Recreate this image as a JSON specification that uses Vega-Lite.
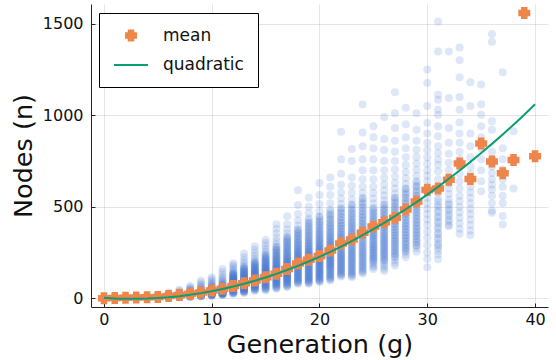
{
"$schema": "https://vega.github.io/schema/vega-lite/v6.json",
"width": 457, "height": 303,
"autosize": {"type": "none"},
"padding": {"left": 91, "top": 4, "right": 8, "bottom": 53},
"config": {
  "view": {"stroke": null},
  "font": "DejaVu Sans",
  "axis": {"grid": true, "gridColor": "#000", "gridOpacity": 0.1, "gridWidth": 1, "domainColor": "#222", "domainWidth": 1, "tickColor": "#222", "tickSize": -4, "tickWidth": 1, "labelFontSize": 16, "labelColor": "#111", "titleFontSize": 25.5, "titleFontWeight": "normal", "titleColor": "#111", "labelFont": "DejaVu Sans", "titleFont": "DejaVu Sans"},
  "legend": {"orient": "none", "legendX": 8, "legendY": 9, "padding": 14, "symbolOffset": 0, "labelOffset": 14, "labelFontSize": 17, "labelFont": "DejaVu Sans", "labelColor": "#111", "rowPadding": 2, "strokeColor": "#000", "fillColor": "#fff", "symbolStrokeWidth": 2, "symbolOpacity": 1}
},
"datasets": {
"pts": [
{"g":0,"n":1},{"g":0,"n":1},{"g":0,"n":1},{"g":0,"n":1},{"g":0,"n":1},{"g":0,"n":1},{"g":0,"n":1},{"g":0,"n":1},{"g":0,"n":1},{"g":0,"n":1},
{"g":1,"n":1},{"g":1,"n":1},{"g":1,"n":2},{"g":1,"n":2},{"g":1,"n":2},{"g":1,"n":2},{"g":1,"n":3},{"g":1,"n":3},{"g":1,"n":3},{"g":1,"n":3},{"g":1,"n":4},{"g":1,"n":4},
{"g":2,"n":1},{"g":2,"n":2},{"g":2,"n":2},{"g":2,"n":3},{"g":2,"n":3},{"g":2,"n":3},{"g":2,"n":3},{"g":2,"n":4},{"g":2,"n":4},{"g":2,"n":4},{"g":2,"n":5},{"g":2,"n":5},{"g":2,"n":6},
{"g":3,"n":1},{"g":3,"n":2},{"g":3,"n":3},{"g":3,"n":3},{"g":3,"n":4},{"g":3,"n":4},{"g":3,"n":4},{"g":3,"n":5},{"g":3,"n":5},{"g":3,"n":6},{"g":3,"n":6},{"g":3,"n":7},{"g":3,"n":8},{"g":3,"n":9},
{"g":4,"n":2},{"g":4,"n":3},{"g":4,"n":4},{"g":4,"n":4},{"g":4,"n":5},{"g":4,"n":5},{"g":4,"n":6},{"g":4,"n":6},{"g":4,"n":7},{"g":4,"n":7},{"g":4,"n":8},{"g":4,"n":9},{"g":4,"n":10},{"g":4,"n":12},{"g":4,"n":14},
{"g":5,"n":2},{"g":5,"n":3},{"g":5,"n":4},{"g":5,"n":5},{"g":5,"n":5},{"g":5,"n":6},{"g":5,"n":6},{"g":5,"n":7},{"g":5,"n":7},{"g":5,"n":8},{"g":5,"n":8},{"g":5,"n":9},{"g":5,"n":10},{"g":5,"n":12},{"g":5,"n":14},{"g":5,"n":17},{"g":5,"n":21},
{"g":6,"n":4},{"g":6,"n":5},{"g":6,"n":6},{"g":6,"n":7},{"g":6,"n":8},{"g":6,"n":8},{"g":6,"n":9},{"g":6,"n":10},{"g":6,"n":10},{"g":6,"n":11},{"g":6,"n":12},{"g":6,"n":13},{"g":6,"n":14},{"g":6,"n":15},{"g":6,"n":16},{"g":6,"n":18},{"g":6,"n":20},{"g":6,"n":23},{"g":6,"n":27},{"g":6,"n":32},
{"g":7,"n":6},{"g":7,"n":7},{"g":7,"n":8},{"g":7,"n":9},{"g":7,"n":10},{"g":7,"n":11},{"g":7,"n":12},{"g":7,"n":13},{"g":7,"n":14},{"g":7,"n":15},{"g":7,"n":16},{"g":7,"n":17},{"g":7,"n":18},{"g":7,"n":19},{"g":7,"n":20},{"g":7,"n":22},{"g":7,"n":24},{"g":7,"n":26},{"g":7,"n":28},{"g":7,"n":31},{"g":7,"n":35},{"g":7,"n":40},{"g":7,"n":47},
{"g":8,"n":8},{"g":8,"n":9},{"g":8,"n":10},{"g":8,"n":11},{"g":8,"n":12},{"g":8,"n":13},{"g":8,"n":14},{"g":8,"n":15},{"g":8,"n":16},{"g":8,"n":17},{"g":8,"n":18},{"g":8,"n":19},{"g":8,"n":20},{"g":8,"n":21},{"g":8,"n":22},{"g":8,"n":23},{"g":8,"n":24},{"g":8,"n":25},{"g":8,"n":26},{"g":8,"n":28},{"g":8,"n":30},{"g":8,"n":32},{"g":8,"n":34},{"g":8,"n":36},{"g":8,"n":38},{"g":8,"n":41},{"g":8,"n":44},{"g":8,"n":48},{"g":8,"n":53},{"g":8,"n":60},{"g":8,"n":68},
{"g":9,"n":10},{"g":9,"n":12},{"g":9,"n":13},{"g":9,"n":14},{"g":9,"n":15},{"g":9,"n":16},{"g":9,"n":17},{"g":9,"n":18},{"g":9,"n":19},{"g":9,"n":20},{"g":9,"n":21},{"g":9,"n":22},{"g":9,"n":23},{"g":9,"n":24},{"g":9,"n":25},{"g":9,"n":26},{"g":9,"n":27},{"g":9,"n":28},{"g":9,"n":29},{"g":9,"n":30},{"g":9,"n":32},{"g":9,"n":34},{"g":9,"n":36},{"g":9,"n":38},{"g":9,"n":40},{"g":9,"n":43},{"g":9,"n":46},{"g":9,"n":50},{"g":9,"n":55},{"g":9,"n":61},{"g":9,"n":68},{"g":9,"n":76},{"g":9,"n":86},{"g":9,"n":98},
{"g":10,"n":14},{"g":10,"n":15},{"g":10,"n":17},{"g":10,"n":18},{"g":10,"n":19},{"g":10,"n":20},{"g":10,"n":21},{"g":10,"n":22},{"g":10,"n":23},{"g":10,"n":24},{"g":10,"n":25},{"g":10,"n":26},{"g":10,"n":27},{"g":10,"n":28},{"g":10,"n":29},{"g":10,"n":30},{"g":10,"n":31},{"g":10,"n":32},{"g":10,"n":33},{"g":10,"n":34},{"g":10,"n":35},{"g":10,"n":36},{"g":10,"n":37},{"g":10,"n":38},{"g":10,"n":40},{"g":10,"n":42},{"g":10,"n":44},{"g":10,"n":46},{"g":10,"n":48},{"g":10,"n":50},{"g":10,"n":52},{"g":10,"n":54},{"g":10,"n":57},{"g":10,"n":60},{"g":10,"n":64},{"g":10,"n":68},{"g":10,"n":73},{"g":10,"n":79},{"g":10,"n":86},{"g":10,"n":95},{"g":10,"n":105},{"g":10,"n":116},
{"g":11,"n":18},{"g":11,"n":20},{"g":11,"n":22},{"g":11,"n":23},{"g":11,"n":24},{"g":11,"n":25},{"g":11,"n":26},{"g":11,"n":27},{"g":11,"n":28},{"g":11,"n":29},{"g":11,"n":30},{"g":11,"n":31},{"g":11,"n":32},{"g":11,"n":33},{"g":11,"n":34},{"g":11,"n":35},{"g":11,"n":36},{"g":11,"n":37},{"g":11,"n":38},{"g":11,"n":39},{"g":11,"n":40},{"g":11,"n":41},{"g":11,"n":42},{"g":11,"n":43},{"g":11,"n":44},{"g":11,"n":45},{"g":11,"n":46},{"g":11,"n":48},{"g":11,"n":50},{"g":11,"n":52},{"g":11,"n":54},{"g":11,"n":56},{"g":11,"n":58},{"g":11,"n":60},{"g":11,"n":62},{"g":11,"n":64},{"g":11,"n":67},{"g":11,"n":70},{"g":11,"n":73},{"g":11,"n":77},{"g":11,"n":81},{"g":11,"n":86},{"g":11,"n":92},{"g":11,"n":99},{"g":11,"n":107},{"g":11,"n":117},{"g":11,"n":130},{"g":11,"n":145},{"g":11,"n":162},
{"g":12,"n":25},{"g":12,"n":27},{"g":12,"n":29},{"g":12,"n":31},{"g":12,"n":33},{"g":12,"n":35},{"g":12,"n":37},{"g":12,"n":39},{"g":12,"n":41},{"g":12,"n":43},{"g":12,"n":45},{"g":12,"n":47},{"g":12,"n":49},{"g":12,"n":51},{"g":12,"n":53},{"g":12,"n":55},{"g":12,"n":57},{"g":12,"n":59},{"g":12,"n":61},{"g":12,"n":63},{"g":12,"n":65},{"g":12,"n":67},{"g":12,"n":69},{"g":12,"n":71},{"g":12,"n":73},{"g":12,"n":75},{"g":12,"n":78},{"g":12,"n":81},{"g":12,"n":84},{"g":12,"n":87},{"g":12,"n":90},{"g":12,"n":93},{"g":12,"n":96},{"g":12,"n":99},{"g":12,"n":102},{"g":12,"n":105},{"g":12,"n":109},{"g":12,"n":113},{"g":12,"n":117},{"g":12,"n":121},{"g":12,"n":126},{"g":12,"n":131},{"g":12,"n":137},{"g":12,"n":144},{"g":12,"n":152},{"g":12,"n":161},{"g":12,"n":171},{"g":12,"n":182},{"g":12,"n":192},
{"g":13,"n":30},{"g":13,"n":33},{"g":13,"n":36},{"g":13,"n":38},{"g":13,"n":40},{"g":13,"n":42},{"g":13,"n":44},{"g":13,"n":46},{"g":13,"n":48},{"g":13,"n":50},{"g":13,"n":52},{"g":13,"n":54},{"g":13,"n":56},{"g":13,"n":58},{"g":13,"n":60},{"g":13,"n":62},{"g":13,"n":64},{"g":13,"n":66},{"g":13,"n":68},{"g":13,"n":70},{"g":13,"n":72},{"g":13,"n":74},{"g":13,"n":76},{"g":13,"n":78},{"g":13,"n":80},{"g":13,"n":82},{"g":13,"n":84},{"g":13,"n":87},{"g":13,"n":90},{"g":13,"n":93},{"g":13,"n":96},{"g":13,"n":99},{"g":13,"n":102},{"g":13,"n":105},{"g":13,"n":108},{"g":13,"n":111},{"g":13,"n":115},{"g":13,"n":119},{"g":13,"n":123},{"g":13,"n":127},{"g":13,"n":131},{"g":13,"n":136},{"g":13,"n":141},{"g":13,"n":147},{"g":13,"n":154},{"g":13,"n":162},{"g":13,"n":171},{"g":13,"n":181},{"g":13,"n":193},{"g":13,"n":207},{"g":13,"n":224},{"g":13,"n":245},
{"g":14,"n":42},{"g":14,"n":45},{"g":14,"n":48},{"g":14,"n":51},{"g":14,"n":54},{"g":14,"n":57},{"g":14,"n":60},{"g":14,"n":62},{"g":14,"n":64},{"g":14,"n":66},{"g":14,"n":68},{"g":14,"n":70},{"g":14,"n":72},{"g":14,"n":74},{"g":14,"n":76},{"g":14,"n":78},{"g":14,"n":80},{"g":14,"n":82},{"g":14,"n":84},{"g":14,"n":86},{"g":14,"n":88},{"g":14,"n":90},{"g":14,"n":92},{"g":14,"n":94},{"g":14,"n":96},{"g":14,"n":98},{"g":14,"n":100},{"g":14,"n":102},{"g":14,"n":105},{"g":14,"n":108},{"g":14,"n":111},{"g":14,"n":114},{"g":14,"n":117},{"g":14,"n":120},{"g":14,"n":123},{"g":14,"n":126},{"g":14,"n":130},{"g":14,"n":134},{"g":14,"n":138},{"g":14,"n":142},{"g":14,"n":146},{"g":14,"n":150},{"g":14,"n":155},{"g":14,"n":160},{"g":14,"n":166},{"g":14,"n":172},{"g":14,"n":179},{"g":14,"n":187},{"g":14,"n":196},{"g":14,"n":206},{"g":14,"n":218},{"g":14,"n":232},{"g":14,"n":248},{"g":14,"n":265},{"g":14,"n":285},
{"g":15,"n":44},{"g":15,"n":48},{"g":15,"n":52},{"g":15,"n":56},{"g":15,"n":60},{"g":15,"n":63},{"g":15,"n":66},{"g":15,"n":69},{"g":15,"n":72},{"g":15,"n":75},{"g":15,"n":78},{"g":15,"n":81},{"g":15,"n":84},{"g":15,"n":87},{"g":15,"n":90},{"g":15,"n":93},{"g":15,"n":96},{"g":15,"n":99},{"g":15,"n":102},{"g":15,"n":105},{"g":15,"n":108},{"g":15,"n":111},{"g":15,"n":114},{"g":15,"n":117},{"g":15,"n":120},{"g":15,"n":123},{"g":15,"n":126},{"g":15,"n":129},{"g":15,"n":132},{"g":15,"n":135},{"g":15,"n":138},{"g":15,"n":141},{"g":15,"n":145},{"g":15,"n":149},{"g":15,"n":153},{"g":15,"n":157},{"g":15,"n":161},{"g":15,"n":165},{"g":15,"n":170},{"g":15,"n":175},{"g":15,"n":180},{"g":15,"n":186},{"g":15,"n":192},{"g":15,"n":199},{"g":15,"n":206},{"g":15,"n":214},{"g":15,"n":223},{"g":15,"n":233},{"g":15,"n":244},{"g":15,"n":256},{"g":15,"n":270},{"g":15,"n":286},{"g":15,"n":303},{"g":15,"n":320},
{"g":16,"n":53},{"g":16,"n":57},{"g":16,"n":61},{"g":16,"n":65},{"g":16,"n":69},{"g":16,"n":73},{"g":16,"n":77},{"g":16,"n":80},{"g":16,"n":83},{"g":16,"n":86},{"g":16,"n":89},{"g":16,"n":92},{"g":16,"n":95},{"g":16,"n":98},{"g":16,"n":101},{"g":16,"n":104},{"g":16,"n":107},{"g":16,"n":110},{"g":16,"n":113},{"g":16,"n":116},{"g":16,"n":119},{"g":16,"n":122},{"g":16,"n":125},{"g":16,"n":128},{"g":16,"n":131},{"g":16,"n":134},{"g":16,"n":137},{"g":16,"n":140},{"g":16,"n":143},{"g":16,"n":146},{"g":16,"n":150},{"g":16,"n":154},{"g":16,"n":158},{"g":16,"n":162},{"g":16,"n":166},{"g":16,"n":170},{"g":16,"n":175},{"g":16,"n":180},{"g":16,"n":185},{"g":16,"n":190},{"g":16,"n":196},{"g":16,"n":202},{"g":16,"n":209},{"g":16,"n":216},{"g":16,"n":224},{"g":16,"n":233},{"g":16,"n":243},{"g":16,"n":254},{"g":16,"n":266},{"g":16,"n":280},{"g":16,"n":295},{"g":16,"n":312},{"g":16,"n":332},{"g":16,"n":355},{"g":16,"n":380},{"g":16,"n":405},
{"g":17,"n":62},{"g":17,"n":66},{"g":17,"n":70},{"g":17,"n":74},{"g":17,"n":78},{"g":17,"n":82},{"g":17,"n":86},{"g":17,"n":90},{"g":17,"n":94},{"g":17,"n":97},{"g":17,"n":100},{"g":17,"n":103},{"g":17,"n":106},{"g":17,"n":109},{"g":17,"n":112},{"g":17,"n":115},{"g":17,"n":118},{"g":17,"n":121},{"g":17,"n":124},{"g":17,"n":127},{"g":17,"n":130},{"g":17,"n":133},{"g":17,"n":136},{"g":17,"n":139},{"g":17,"n":142},{"g":17,"n":145},{"g":17,"n":148},{"g":17,"n":151},{"g":17,"n":154},{"g":17,"n":157},{"g":17,"n":160},{"g":17,"n":164},{"g":17,"n":168},{"g":17,"n":172},{"g":17,"n":176},{"g":17,"n":180},{"g":17,"n":184},{"g":17,"n":189},{"g":17,"n":194},{"g":17,"n":199},{"g":17,"n":205},{"g":17,"n":211},{"g":17,"n":218},{"g":17,"n":225},{"g":17,"n":233},{"g":17,"n":242},{"g":17,"n":252},{"g":17,"n":263},{"g":17,"n":275},{"g":17,"n":288},{"g":17,"n":302},{"g":17,"n":318},{"g":17,"n":335},{"g":17,"n":355},{"g":17,"n":378},{"g":17,"n":405},{"g":17,"n":448},
{"g":18,"n":80},{"g":18,"n":84},{"g":18,"n":88},{"g":18,"n":92},{"g":18,"n":96},{"g":18,"n":100},{"g":18,"n":104},{"g":18,"n":108},{"g":18,"n":112},{"g":18,"n":116},{"g":18,"n":120},{"g":18,"n":124},{"g":18,"n":128},{"g":18,"n":132},{"g":18,"n":136},{"g":18,"n":140},{"g":18,"n":144},{"g":18,"n":148},{"g":18,"n":152},{"g":18,"n":156},{"g":18,"n":160},{"g":18,"n":164},{"g":18,"n":168},{"g":18,"n":172},{"g":18,"n":176},{"g":18,"n":180},{"g":18,"n":184},{"g":18,"n":188},{"g":18,"n":192},{"g":18,"n":197},{"g":18,"n":202},{"g":18,"n":207},{"g":18,"n":212},{"g":18,"n":217},{"g":18,"n":222},{"g":18,"n":228},{"g":18,"n":234},{"g":18,"n":240},{"g":18,"n":247},{"g":18,"n":254},{"g":18,"n":262},{"g":18,"n":270},{"g":18,"n":279},{"g":18,"n":289},{"g":18,"n":300},{"g":18,"n":312},{"g":18,"n":325},{"g":18,"n":340},{"g":18,"n":357},{"g":18,"n":376},{"g":18,"n":398},{"g":18,"n":425},{"g":18,"n":460},{"g":18,"n":510},{"g":18,"n":590},
{"g":19,"n":80},{"g":19,"n":84},{"g":19,"n":88},{"g":19,"n":92},{"g":19,"n":96},{"g":19,"n":100},{"g":19,"n":104},{"g":19,"n":108},{"g":19,"n":112},{"g":19,"n":116},{"g":19,"n":120},{"g":19,"n":124},{"g":19,"n":128},{"g":19,"n":132},{"g":19,"n":136},{"g":19,"n":140},{"g":19,"n":144},{"g":19,"n":148},{"g":19,"n":152},{"g":19,"n":156},{"g":19,"n":160},{"g":19,"n":164},{"g":19,"n":168},{"g":19,"n":172},{"g":19,"n":176},{"g":19,"n":180},{"g":19,"n":184},{"g":19,"n":188},{"g":19,"n":192},{"g":19,"n":196},{"g":19,"n":200},{"g":19,"n":204},{"g":19,"n":208},{"g":19,"n":212},{"g":19,"n":216},{"g":19,"n":220},{"g":19,"n":225},{"g":19,"n":230},{"g":19,"n":235},{"g":19,"n":240},{"g":19,"n":246},{"g":19,"n":252},{"g":19,"n":258},{"g":19,"n":265},{"g":19,"n":272},{"g":19,"n":280},{"g":19,"n":289},{"g":19,"n":298},{"g":19,"n":308},{"g":19,"n":319},{"g":19,"n":331},{"g":19,"n":344},{"g":19,"n":358},{"g":19,"n":374},{"g":19,"n":392},{"g":19,"n":412},{"g":19,"n":436},{"g":19,"n":465},{"g":19,"n":500},{"g":19,"n":550},
{"g":20,"n":90},{"g":20,"n":94},{"g":20,"n":98},{"g":20,"n":102},{"g":20,"n":106},{"g":20,"n":110},{"g":20,"n":114},{"g":20,"n":118},{"g":20,"n":122},{"g":20,"n":126},{"g":20,"n":130},{"g":20,"n":134},{"g":20,"n":138},{"g":20,"n":142},{"g":20,"n":146},{"g":20,"n":150},{"g":20,"n":154},{"g":20,"n":158},{"g":20,"n":162},{"g":20,"n":166},{"g":20,"n":170},{"g":20,"n":174},{"g":20,"n":178},{"g":20,"n":182},{"g":20,"n":186},{"g":20,"n":190},{"g":20,"n":194},{"g":20,"n":198},{"g":20,"n":202},{"g":20,"n":206},{"g":20,"n":210},{"g":20,"n":214},{"g":20,"n":218},{"g":20,"n":222},{"g":20,"n":226},{"g":20,"n":230},{"g":20,"n":235},{"g":20,"n":240},{"g":20,"n":245},{"g":20,"n":250},{"g":20,"n":256},{"g":20,"n":262},{"g":20,"n":268},{"g":20,"n":275},{"g":20,"n":282},{"g":20,"n":290},{"g":20,"n":298},{"g":20,"n":307},{"g":20,"n":317},{"g":20,"n":328},{"g":20,"n":340},{"g":20,"n":353},{"g":20,"n":367},{"g":20,"n":383},{"g":20,"n":400},{"g":20,"n":420},{"g":20,"n":445},{"g":20,"n":475},{"g":20,"n":515},{"g":20,"n":565},{"g":20,"n":630},
{"g":21,"n":98},{"g":21,"n":103},{"g":21,"n":108},{"g":21,"n":113},{"g":21,"n":118},{"g":21,"n":123},{"g":21,"n":128},{"g":21,"n":133},{"g":21,"n":138},{"g":21,"n":143},{"g":21,"n":148},{"g":21,"n":153},{"g":21,"n":158},{"g":21,"n":163},{"g":21,"n":168},{"g":21,"n":172},{"g":21,"n":176},{"g":21,"n":180},{"g":21,"n":184},{"g":21,"n":188},{"g":21,"n":192},{"g":21,"n":196},{"g":21,"n":200},{"g":21,"n":204},{"g":21,"n":208},{"g":21,"n":212},{"g":21,"n":216},{"g":21,"n":220},{"g":21,"n":224},{"g":21,"n":228},{"g":21,"n":232},{"g":21,"n":236},{"g":21,"n":240},{"g":21,"n":245},{"g":21,"n":250},{"g":21,"n":255},{"g":21,"n":260},{"g":21,"n":266},{"g":21,"n":272},{"g":21,"n":278},{"g":21,"n":285},{"g":21,"n":292},{"g":21,"n":300},{"g":21,"n":308},{"g":21,"n":317},{"g":21,"n":327},{"g":21,"n":338},{"g":21,"n":350},{"g":21,"n":363},{"g":21,"n":377},{"g":21,"n":393},{"g":21,"n":410},{"g":21,"n":430},{"g":21,"n":455},{"g":21,"n":485},{"g":21,"n":520},{"g":21,"n":565},{"g":21,"n":610},{"g":21,"n":660},
{"g":22,"n":120},{"g":22,"n":125},{"g":22,"n":130},{"g":22,"n":135},{"g":22,"n":140},{"g":22,"n":145},{"g":22,"n":150},{"g":22,"n":155},{"g":22,"n":160},{"g":22,"n":165},{"g":22,"n":170},{"g":22,"n":175},{"g":22,"n":180},{"g":22,"n":185},{"g":22,"n":190},{"g":22,"n":195},{"g":22,"n":200},{"g":22,"n":205},{"g":22,"n":210},{"g":22,"n":215},{"g":22,"n":220},{"g":22,"n":225},{"g":22,"n":230},{"g":22,"n":235},{"g":22,"n":240},{"g":22,"n":245},{"g":22,"n":250},{"g":22,"n":256},{"g":22,"n":262},{"g":22,"n":268},{"g":22,"n":274},{"g":22,"n":280},{"g":22,"n":287},{"g":22,"n":294},{"g":22,"n":301},{"g":22,"n":309},{"g":22,"n":317},{"g":22,"n":326},{"g":22,"n":335},{"g":22,"n":345},{"g":22,"n":356},{"g":22,"n":368},{"g":22,"n":381},{"g":22,"n":395},{"g":22,"n":410},{"g":22,"n":427},{"g":22,"n":446},{"g":22,"n":467},{"g":22,"n":490},{"g":22,"n":515},{"g":22,"n":545},{"g":22,"n":580},{"g":22,"n":620},{"g":22,"n":680},{"g":22,"n":760},{"g":22,"n":910},
{"g":23,"n":116},{"g":23,"n":122},{"g":23,"n":128},{"g":23,"n":134},{"g":23,"n":140},{"g":23,"n":146},{"g":23,"n":152},{"g":23,"n":158},{"g":23,"n":164},{"g":23,"n":170},{"g":23,"n":176},{"g":23,"n":182},{"g":23,"n":188},{"g":23,"n":194},{"g":23,"n":200},{"g":23,"n":206},{"g":23,"n":212},{"g":23,"n":218},{"g":23,"n":224},{"g":23,"n":230},{"g":23,"n":236},{"g":23,"n":242},{"g":23,"n":248},{"g":23,"n":254},{"g":23,"n":260},{"g":23,"n":266},{"g":23,"n":272},{"g":23,"n":279},{"g":23,"n":286},{"g":23,"n":293},{"g":23,"n":300},{"g":23,"n":308},{"g":23,"n":316},{"g":23,"n":325},{"g":23,"n":334},{"g":23,"n":344},{"g":23,"n":355},{"g":23,"n":367},{"g":23,"n":380},{"g":23,"n":394},{"g":23,"n":409},{"g":23,"n":425},{"g":23,"n":443},{"g":23,"n":463},{"g":23,"n":485},{"g":23,"n":510},{"g":23,"n":540},{"g":23,"n":575},{"g":23,"n":615},{"g":23,"n":660},{"g":23,"n":750},{"g":23,"n":816},
{"g":24,"n":136},{"g":24,"n":143},{"g":24,"n":150},{"g":24,"n":157},{"g":24,"n":164},{"g":24,"n":171},{"g":24,"n":178},{"g":24,"n":185},{"g":24,"n":192},{"g":24,"n":199},{"g":24,"n":206},{"g":24,"n":213},{"g":24,"n":220},{"g":24,"n":227},{"g":24,"n":234},{"g":24,"n":241},{"g":24,"n":248},{"g":24,"n":255},{"g":24,"n":262},{"g":24,"n":269},{"g":24,"n":276},{"g":24,"n":283},{"g":24,"n":290},{"g":24,"n":298},{"g":24,"n":306},{"g":24,"n":314},{"g":24,"n":322},{"g":24,"n":331},{"g":24,"n":340},{"g":24,"n":350},{"g":24,"n":360},{"g":24,"n":371},{"g":24,"n":383},{"g":24,"n":396},{"g":24,"n":410},{"g":24,"n":425},{"g":24,"n":441},{"g":24,"n":458},{"g":24,"n":477},{"g":24,"n":498},{"g":24,"n":520},{"g":24,"n":545},{"g":24,"n":575},{"g":24,"n":610},{"g":24,"n":650},{"g":24,"n":700},{"g":24,"n":760},{"g":24,"n":830},{"g":24,"n":905},{"g":24,"n":1058},
{"g":25,"n":160},{"g":25,"n":170},{"g":25,"n":180},{"g":25,"n":190},{"g":25,"n":200},{"g":25,"n":210},{"g":25,"n":220},{"g":25,"n":230},{"g":25,"n":240},{"g":25,"n":250},{"g":25,"n":260},{"g":25,"n":270},{"g":25,"n":280},{"g":25,"n":290},{"g":25,"n":300},{"g":25,"n":312},{"g":25,"n":324},{"g":25,"n":336},{"g":25,"n":348},{"g":25,"n":360},{"g":25,"n":374},{"g":25,"n":388},{"g":25,"n":402},{"g":25,"n":418},{"g":25,"n":434},{"g":25,"n":452},{"g":25,"n":472},{"g":25,"n":494},{"g":25,"n":518},{"g":25,"n":545},{"g":25,"n":575},{"g":25,"n":610},{"g":25,"n":650},{"g":25,"n":700},{"g":25,"n":760},{"g":25,"n":820},{"g":25,"n":880},{"g":25,"n":940},
{"g":26,"n":150},{"g":26,"n":162},{"g":26,"n":174},{"g":26,"n":186},{"g":26,"n":198},{"g":26,"n":210},{"g":26,"n":222},{"g":26,"n":234},{"g":26,"n":246},{"g":26,"n":258},{"g":26,"n":270},{"g":26,"n":282},{"g":26,"n":294},{"g":26,"n":306},{"g":26,"n":318},{"g":26,"n":330},{"g":26,"n":343},{"g":26,"n":356},{"g":26,"n":370},{"g":26,"n":385},{"g":26,"n":400},{"g":26,"n":416},{"g":26,"n":433},{"g":26,"n":451},{"g":26,"n":470},{"g":26,"n":490},{"g":26,"n":512},{"g":26,"n":536},{"g":26,"n":562},{"g":26,"n":590},{"g":26,"n":622},{"g":26,"n":658},{"g":26,"n":700},{"g":26,"n":750},{"g":26,"n":810},{"g":26,"n":870},{"g":26,"n":990},
{"g":27,"n":180},{"g":27,"n":195},{"g":27,"n":210},{"g":27,"n":225},{"g":27,"n":240},{"g":27,"n":255},{"g":27,"n":270},{"g":27,"n":285},{"g":27,"n":300},{"g":27,"n":315},{"g":27,"n":330},{"g":27,"n":345},{"g":27,"n":360},{"g":27,"n":376},{"g":27,"n":392},{"g":27,"n":408},{"g":27,"n":425},{"g":27,"n":443},{"g":27,"n":462},{"g":27,"n":482},{"g":27,"n":503},{"g":27,"n":525},{"g":27,"n":548},{"g":27,"n":573},{"g":27,"n":600},{"g":27,"n":630},{"g":27,"n":665},{"g":27,"n":705},{"g":27,"n":750},{"g":27,"n":800},{"g":27,"n":860},{"g":27,"n":930},{"g":27,"n":1010},{"g":27,"n":1125},
{"g":28,"n":225},{"g":28,"n":240},{"g":28,"n":255},{"g":28,"n":270},{"g":28,"n":285},{"g":28,"n":300},{"g":28,"n":315},{"g":28,"n":330},{"g":28,"n":345},{"g":28,"n":360},{"g":28,"n":376},{"g":28,"n":392},{"g":28,"n":408},{"g":28,"n":425},{"g":28,"n":443},{"g":28,"n":462},{"g":28,"n":482},{"g":28,"n":503},{"g":28,"n":525},{"g":28,"n":548},{"g":28,"n":572},{"g":28,"n":598},{"g":28,"n":626},{"g":28,"n":656},{"g":28,"n":690},{"g":28,"n":728},{"g":28,"n":770},{"g":28,"n":820},{"g":28,"n":880},{"g":28,"n":950},{"g":28,"n":1040},
{"g":29,"n":255},{"g":29,"n":272},{"g":29,"n":289},{"g":29,"n":306},{"g":29,"n":323},{"g":29,"n":340},{"g":29,"n":357},{"g":29,"n":375},{"g":29,"n":393},{"g":29,"n":411},{"g":29,"n":430},{"g":29,"n":450},{"g":29,"n":470},{"g":29,"n":491},{"g":29,"n":513},{"g":29,"n":536},{"g":29,"n":560},{"g":29,"n":585},{"g":29,"n":612},{"g":29,"n":640},{"g":29,"n":670},{"g":29,"n":702},{"g":29,"n":736},{"g":29,"n":772},{"g":29,"n":812},{"g":29,"n":860},{"g":29,"n":920},{"g":29,"n":1010},
{"g":30,"n":170},{"g":30,"n":215},{"g":30,"n":250},{"g":30,"n":290},{"g":30,"n":330},{"g":30,"n":365},{"g":30,"n":400},{"g":30,"n":430},{"g":30,"n":460},{"g":30,"n":490},{"g":30,"n":520},{"g":30,"n":550},{"g":30,"n":580},{"g":30,"n":610},{"g":30,"n":640},{"g":30,"n":670},{"g":30,"n":700},{"g":30,"n":735},{"g":30,"n":770},{"g":30,"n":810},{"g":30,"n":850},{"g":30,"n":900},{"g":30,"n":958},{"g":30,"n":1050},{"g":30,"n":1176},{"g":30,"n":1249},
{"g":31,"n":213},{"g":31,"n":240},{"g":31,"n":260},{"g":31,"n":276},{"g":31,"n":290},{"g":31,"n":300},{"g":31,"n":320},{"g":31,"n":330},{"g":31,"n":350},{"g":31,"n":358},{"g":31,"n":380},{"g":31,"n":390},{"g":31,"n":410},{"g":31,"n":420},{"g":31,"n":440},{"g":31,"n":449},{"g":31,"n":470},{"g":31,"n":480},{"g":31,"n":500},{"g":31,"n":510},{"g":31,"n":530},{"g":31,"n":545},{"g":31,"n":576},{"g":31,"n":610},{"g":31,"n":650},{"g":31,"n":694},{"g":31,"n":730},{"g":31,"n":758},{"g":31,"n":794},{"g":31,"n":830},{"g":31,"n":885},{"g":31,"n":940},{"g":31,"n":1003},{"g":31,"n":1030},{"g":31,"n":1085},{"g":31,"n":1112},{"g":31,"n":1348},{"g":31,"n":1512},
{"g":32,"n":394},{"g":32,"n":400},{"g":32,"n":420},{"g":32,"n":430},{"g":32,"n":450},{"g":32,"n":460},{"g":32,"n":480},{"g":32,"n":490},{"g":32,"n":510},{"g":32,"n":520},{"g":32,"n":540},{"g":32,"n":570},{"g":32,"n":600},{"g":32,"n":630},{"g":32,"n":660},{"g":32,"n":700},{"g":32,"n":740},{"g":32,"n":790},{"g":32,"n":850},{"g":32,"n":930},{"g":32,"n":1094},{"g":32,"n":1348},
{"g":33,"n":353},{"g":33,"n":380},{"g":33,"n":410},{"g":33,"n":440},{"g":33,"n":470},{"g":33,"n":500},{"g":33,"n":530},{"g":33,"n":560},{"g":33,"n":600},{"g":33,"n":640},{"g":33,"n":680},{"g":33,"n":720},{"g":33,"n":760},{"g":33,"n":800},{"g":33,"n":850},{"g":33,"n":900},{"g":33,"n":960},{"g":33,"n":1030},{"g":33,"n":1100},{"g":33,"n":1207},{"g":33,"n":1300},{"g":33,"n":1370},
{"g":34,"n":345},{"g":34,"n":370},{"g":34,"n":400},{"g":34,"n":430},{"g":34,"n":460},{"g":34,"n":490},{"g":34,"n":520},{"g":34,"n":550},{"g":34,"n":580},{"g":34,"n":610},{"g":34,"n":640},{"g":34,"n":680},{"g":34,"n":720},{"g":34,"n":770},{"g":34,"n":830},{"g":34,"n":900},{"g":34,"n":1050},{"g":34,"n":1180},
{"g":35,"n":585},{"g":35,"n":640},{"g":35,"n":700},{"g":35,"n":760},{"g":35,"n":820},{"g":35,"n":880},{"g":35,"n":940},{"g":35,"n":1003},{"g":35,"n":1060},{"g":35,"n":1167},
{"g":36,"n":467},{"g":36,"n":480},{"g":36,"n":520},{"g":36,"n":560},{"g":36,"n":594},{"g":36,"n":620},{"g":36,"n":650},{"g":36,"n":685},{"g":36,"n":720},{"g":36,"n":760},{"g":36,"n":800},{"g":36,"n":920},{"g":36,"n":967},{"g":36,"n":1401},{"g":36,"n":1443},
{"g":37,"n":403},{"g":37,"n":450},{"g":37,"n":520},{"g":37,"n":560},{"g":37,"n":610},{"g":37,"n":650},{"g":37,"n":703},{"g":37,"n":760},{"g":37,"n":820},{"g":37,"n":1234},
{"g":38,"n":600},{"g":38,"n":756},{"g":38,"n":912},
{"g":39,"n":1558},
{"g":40,"n":776},
{"g":12,"n":70},{"g":12,"n":76},{"g":12,"n":82},{"g":12,"n":88},{"g":12,"n":94},{"g":12,"n":100},{"g":12,"n":106},{"g":12,"n":112},{"g":12,"n":118},{"g":12,"n":124},{"g":12,"n":130},{"g":12,"n":136},
{"g":13,"n":85},{"g":13,"n":92},{"g":13,"n":99},{"g":13,"n":106},{"g":13,"n":113},{"g":13,"n":120},{"g":13,"n":127},{"g":13,"n":134},{"g":13,"n":141},{"g":13,"n":148},{"g":13,"n":155},{"g":13,"n":162},{"g":13,"n":169},
{"g":14,"n":100},{"g":14,"n":108},{"g":14,"n":116},{"g":14,"n":124},{"g":14,"n":132},{"g":14,"n":140},{"g":14,"n":148},{"g":14,"n":156},{"g":14,"n":164},{"g":14,"n":172},{"g":14,"n":180},{"g":14,"n":188},{"g":14,"n":196},
{"g":15,"n":118},{"g":15,"n":127},{"g":15,"n":136},{"g":15,"n":145},{"g":15,"n":154},{"g":15,"n":163},{"g":15,"n":172},{"g":15,"n":181},{"g":15,"n":190},{"g":15,"n":199},{"g":15,"n":208},{"g":15,"n":217},{"g":15,"n":226},{"g":15,"n":235},
{"g":16,"n":140},{"g":16,"n":150},{"g":16,"n":160},{"g":16,"n":170},{"g":16,"n":180},{"g":16,"n":190},{"g":16,"n":200},{"g":16,"n":210},{"g":16,"n":220},{"g":16,"n":230},{"g":16,"n":240},{"g":16,"n":250},{"g":16,"n":260},{"g":16,"n":270},{"g":16,"n":280},
{"g":17,"n":165},{"g":17,"n":175},{"g":17,"n":185},{"g":17,"n":195},{"g":17,"n":205},{"g":17,"n":215},{"g":17,"n":225},{"g":17,"n":235},{"g":17,"n":245},{"g":17,"n":255},{"g":17,"n":265},{"g":17,"n":275},{"g":17,"n":285},{"g":17,"n":295},{"g":17,"n":305},{"g":17,"n":315},{"g":17,"n":325},{"g":17,"n":335},
{"g":18,"n":195},{"g":18,"n":207},{"g":18,"n":219},{"g":18,"n":231},{"g":18,"n":243},{"g":18,"n":255},{"g":18,"n":267},{"g":18,"n":279},{"g":18,"n":291},{"g":18,"n":303},{"g":18,"n":315},{"g":18,"n":327},{"g":18,"n":339},{"g":18,"n":351},{"g":18,"n":363},{"g":18,"n":375},
{"g":19,"n":215},{"g":19,"n":229},{"g":19,"n":243},{"g":19,"n":257},{"g":19,"n":271},{"g":19,"n":285},{"g":19,"n":299},{"g":19,"n":313},{"g":19,"n":327},{"g":19,"n":341},{"g":19,"n":355},{"g":19,"n":369},{"g":19,"n":383},{"g":19,"n":397},{"g":19,"n":411},{"g":19,"n":425},
{"g":20,"n":235},{"g":20,"n":249},{"g":20,"n":263},{"g":20,"n":277},{"g":20,"n":291},{"g":20,"n":305},{"g":20,"n":319},{"g":20,"n":333},{"g":20,"n":347},{"g":20,"n":361},{"g":20,"n":375},{"g":20,"n":389},{"g":20,"n":403},{"g":20,"n":417},{"g":20,"n":431},{"g":20,"n":445},
{"g":21,"n":265},{"g":21,"n":279},{"g":21,"n":293},{"g":21,"n":307},{"g":21,"n":321},{"g":21,"n":335},{"g":21,"n":349},{"g":21,"n":363},{"g":21,"n":377},{"g":21,"n":391},{"g":21,"n":405},{"g":21,"n":419},{"g":21,"n":433},{"g":21,"n":447},{"g":21,"n":461},{"g":21,"n":475},
{"g":22,"n":300},{"g":22,"n":316},{"g":22,"n":332},{"g":22,"n":348},{"g":22,"n":364},{"g":22,"n":380},{"g":22,"n":396},{"g":22,"n":412},{"g":22,"n":428},{"g":22,"n":444},{"g":22,"n":460},{"g":22,"n":476},{"g":22,"n":492},
{"g":23,"n":320},{"g":23,"n":336},{"g":23,"n":352},{"g":23,"n":368},{"g":23,"n":384},{"g":23,"n":400},{"g":23,"n":416},{"g":23,"n":432},{"g":23,"n":448},{"g":23,"n":464},{"g":23,"n":480},{"g":23,"n":496},{"g":23,"n":512},
{"g":24,"n":350},{"g":24,"n":368},{"g":24,"n":386},{"g":24,"n":404},{"g":24,"n":422},{"g":24,"n":440},{"g":24,"n":458},{"g":24,"n":476},{"g":24,"n":494},{"g":24,"n":512},{"g":24,"n":530},{"g":24,"n":548},
{"g":25,"n":205},{"g":25,"n":220},{"g":25,"n":235},{"g":25,"n":250},{"g":25,"n":265},{"g":25,"n":280},{"g":25,"n":295},{"g":25,"n":310},{"g":25,"n":325},{"g":25,"n":340},{"g":25,"n":355},{"g":25,"n":370},{"g":25,"n":385},{"g":25,"n":400},{"g":25,"n":415},{"g":25,"n":430},{"g":25,"n":445},{"g":25,"n":460},{"g":25,"n":475},{"g":25,"n":490},
{"g":26,"n":210},{"g":26,"n":225},{"g":26,"n":240},{"g":26,"n":255},{"g":26,"n":270},{"g":26,"n":285},{"g":26,"n":300},{"g":26,"n":315},{"g":26,"n":330},{"g":26,"n":345},{"g":26,"n":360},{"g":26,"n":375},{"g":26,"n":390},{"g":26,"n":405},{"g":26,"n":420},{"g":26,"n":435},{"g":26,"n":450},{"g":26,"n":465},{"g":26,"n":480},{"g":26,"n":495},{"g":26,"n":510},
{"g":27,"n":230},{"g":27,"n":246},{"g":27,"n":262},{"g":27,"n":278},{"g":27,"n":294},{"g":27,"n":310},{"g":27,"n":326},{"g":27,"n":342},{"g":27,"n":358},{"g":27,"n":374},{"g":27,"n":390},{"g":27,"n":406},{"g":27,"n":422},{"g":27,"n":438},{"g":27,"n":454},{"g":27,"n":470},{"g":27,"n":486},{"g":27,"n":502},{"g":27,"n":518},{"g":27,"n":534},{"g":27,"n":550},
{"g":28,"n":260},{"g":28,"n":277},{"g":28,"n":294},{"g":28,"n":311},{"g":28,"n":328},{"g":28,"n":345},{"g":28,"n":362},{"g":28,"n":379},{"g":28,"n":396},{"g":28,"n":413},{"g":28,"n":430},{"g":28,"n":447},{"g":28,"n":464},{"g":28,"n":481},{"g":28,"n":498},{"g":28,"n":515},{"g":28,"n":532},{"g":28,"n":549},{"g":28,"n":566},{"g":28,"n":583},{"g":28,"n":600},
{"g":29,"n":290},{"g":29,"n":308},{"g":29,"n":326},{"g":29,"n":344},{"g":29,"n":362},{"g":29,"n":380},{"g":29,"n":398},{"g":29,"n":416},{"g":29,"n":434},{"g":29,"n":452},{"g":29,"n":470},{"g":29,"n":488},{"g":29,"n":506},{"g":29,"n":524},{"g":29,"n":542},{"g":29,"n":560},{"g":29,"n":578},{"g":29,"n":596},{"g":29,"n":614},{"g":29,"n":632}
],
"mean": [
{"g":0,"n":1,"series":"mean"},{"g":1,"n":2,"series":"mean"},{"g":2,"n":3,"series":"mean"},{"g":3,"n":4.3,"series":"mean"},{"g":4,"n":6.5,"series":"mean"},{"g":5,"n":7.5,"series":"mean"},{"g":6,"n":13,"series":"mean"},{"g":7,"n":19,"series":"mean"},{"g":8,"n":25,"series":"mean"},{"g":9,"n":32,"series":"mean"},{"g":10,"n":43,"series":"mean"},{"g":11,"n":53,"series":"mean"},{"g":12,"n":68,"series":"mean"},{"g":13,"n":82,"series":"mean"},{"g":14,"n":98,"series":"mean"},{"g":15,"n":116,"series":"mean"},{"g":16,"n":135,"series":"mean"},{"g":17,"n":160,"series":"mean"},{"g":18,"n":190,"series":"mean"},{"g":19,"n":211,"series":"mean"},{"g":20,"n":231,"series":"mean"},{"g":21,"n":262,"series":"mean"},{"g":22,"n":300,"series":"mean"},{"g":23,"n":322,"series":"mean"},{"g":24,"n":358,"series":"mean"},{"g":25,"n":392,"series":"mean"},{"g":26,"n":416,"series":"mean"},{"g":27,"n":440,"series":"mean"},{"g":28,"n":485,"series":"mean"},{"g":29,"n":529,"series":"mean"},{"g":30,"n":591,"series":"mean"},{"g":31,"n":600,"series":"mean"},{"g":32,"n":647,"series":"mean"},{"g":33,"n":736,"series":"mean"},{"g":34,"n":652,"series":"mean"},{"g":35,"n":845,"series":"mean"},{"g":36,"n":747,"series":"mean"},{"g":37,"n":683,"series":"mean"},{"g":38,"n":756,"series":"mean"},{"g":39,"n":1558,"series":"mean"},{"g":40,"n":776,"series":"mean"}
],
"fit": [
{"g":0,"n":3.0,"series":"quadratic"},{"g":1,"n":-0.2,"series":"quadratic"},{"g":2,"n":-1.9,"series":"quadratic"},{"g":3,"n":-2.1,"series":"quadratic"},{"g":4,"n":-0.8,"series":"quadratic"},{"g":5,"n":2.1,"series":"quadratic"},{"g":6,"n":6.4,"series":"quadratic"},{"g":7,"n":12.3,"series":"quadratic"},{"g":8,"n":19.7,"series":"quadratic"},{"g":9,"n":28.7,"series":"quadratic"},{"g":10,"n":39.1,"series":"quadratic"},{"g":11,"n":51.1,"series":"quadratic"},{"g":12,"n":64.5,"series":"quadratic"},{"g":13,"n":79.5,"series":"quadratic"},{"g":14,"n":96.0,"series":"quadratic"},{"g":15,"n":114.1,"series":"quadratic"},{"g":16,"n":133.6,"series":"quadratic"},{"g":17,"n":154.7,"series":"quadratic"},{"g":18,"n":177.3,"series":"quadratic"},{"g":19,"n":201.4,"series":"quadratic"},{"g":20,"n":227.0,"series":"quadratic"},{"g":21,"n":254.1,"series":"quadratic"},{"g":22,"n":282.8,"series":"quadratic"},{"g":23,"n":313.0,"series":"quadratic"},{"g":24,"n":344.7,"series":"quadratic"},{"g":25,"n":377.9,"series":"quadratic"},{"g":26,"n":412.6,"series":"quadratic"},{"g":27,"n":448.9,"series":"quadratic"},{"g":28,"n":486.6,"series":"quadratic"},{"g":29,"n":525.9,"series":"quadratic"},{"g":30,"n":566.7,"series":"quadratic"},{"g":31,"n":609.0,"series":"quadratic"},{"g":32,"n":652.9,"series":"quadratic"},{"g":33,"n":698.2,"series":"quadratic"},{"g":34,"n":745.1,"series":"quadratic"},{"g":35,"n":793.5,"series":"quadratic"},{"g":36,"n":843.4,"series":"quadratic"},{"g":37,"n":894.8,"series":"quadratic"},{"g":38,"n":947.8,"series":"quadratic"},{"g":39,"n":1002.2,"series":"quadratic"},{"g":40,"n":1059.4,"series":"quadratic"}
]
},
"layer": [
  {"data": {"name": "pts"},
   "mark": {"type": "circle", "color": "#4878D0", "opacity": 0.18, "size": 64},
   "encoding": {
     "x": {"field": "g", "type": "quantitative", "scale": {"domain": [-1.2, 41.2], "nice": false, "zero": false}, "axis": {"values": [0, 10, 20, 30, 40], "title": "Generation (g)", "labelPadding": 8, "titlePadding": 5}},
     "y": {"field": "n", "type": "quantitative", "scale": {"domain": [-47, 1607], "nice": false, "zero": false}, "axis": {"values": [0, 500, 1000, 1500], "format": "d", "title": "Nodes (n)", "labelPadding": 12, "titlePadding": 6}}
   }},
  {"data": {"name": "mean"},
   "mark": {"type": "point", "filled": true, "opacity": 1, "strokeWidth": 2},
   "encoding": {
     "x": {"field": "g", "type": "quantitative"},
     "y": {"field": "n", "type": "quantitative"},
     "color": {"field": "series", "type": "nominal", "scale": {"domain": ["mean", "quadratic"], "range": ["#EE854A", "#0A9E73"]}, "legend": {"title": null}},
     "stroke": {"field": "series", "type": "nominal", "scale": {"domain": ["mean", "quadratic"], "range": ["#EE854A", "#0A9E73"]}, "legend": {"title": null}},
     "shape": {"field": "series", "type": "nominal", "scale": {"domain": ["mean", "quadratic"], "range": ["M-1,-0.45H-0.45V-1H0.45V-0.45H1V0.45H0.45V1H-0.45V0.45H-1Z", "stroke"]}, "legend": {"title": null}},
     "size": {"field": "series", "type": "ordinal", "scale": {"domain": ["mean", "quadratic"], "range": [100, 1156]}, "legend": {"title": null}}
   }},
  {"data": {"name": "fit"},
   "mark": {"type": "line", "strokeWidth": 2, "color": "#0A9E73"},
   "encoding": {
     "x": {"field": "g", "type": "quantitative"},
     "y": {"field": "n", "type": "quantitative"}
   }}
]
}
